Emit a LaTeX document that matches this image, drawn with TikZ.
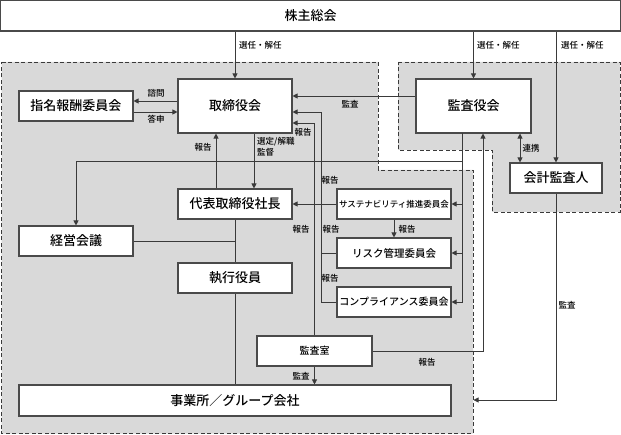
\documentclass[tikz,border=0pt]{standalone}
\usepackage{fontspec}
\setmainfont{Noto Sans CJK JP}
\newfontfamily\jpmed{Noto Sans CJK JP Medium}
\usetikzlibrary{arrows.meta}
\definecolor{regfill}{HTML}{D9D9D9}
\definecolor{edge}{HTML}{3A3A3A}
\definecolor{boxline}{HTML}{4A4A4A}
\begin{document}
\begin{tikzpicture}[x=1pt,y=-1pt,
  box/.style={draw=boxline, line width=1.1pt, fill=white, inner sep=0pt, font=\jpmed\fontsize{13}{15}\selectfont},
  conn/.style={draw=edge, line width=0.8pt},
  arr/.style={conn, -{Triangle[length=5pt,width=5pt]}},
  dbl/.style={conn, {Triangle[length=5pt,width=5pt]}-{Triangle[length=5pt,width=5pt]}},
  lbl/.style={font=\jpmed\fontsize{8.5}{10}\selectfont, inner sep=0pt, text=black},
  region/.style={fill=regfill, draw=edge, dash pattern=on 4pt off 2.5pt, line width=0.8pt}]
\useasboundingbox (0,0) rectangle (621,435);
\fill[white] (0,0) rectangle (621,435);
% regions
\draw[region] (1.5,62) -- (378,62) -- (378,170) -- (473,170) -- (473,433.5) -- (1.5,433.5) -- cycle;
\draw[region] (398,62) -- (620,62) -- (620,212) -- (492,212) -- (492,150) -- (398,150) -- cycle;
% nodes
\node[box, minimum width=620pt, minimum height=30.5pt] (top) at (310.5,15.75) {株主総会};
\node[box, minimum width=114pt, minimum height=54pt] (tori) at (235,106) {取締役会};
\node[box, minimum width=114pt, minimum height=30pt] (shimei) at (76,106) {指名報酬委員会};
\node[box, minimum width=115pt, minimum height=54pt] (kansa) at (473.5,106) {監査役会};
\node[box, minimum width=92pt, minimum height=30pt] (kaikei) at (556,178) {会計監査人};
\node[box, minimum width=114pt, minimum height=30pt] (shacho) at (235,204) {代表取締役社長};
\node[box, minimum width=114pt, minimum height=30pt] (keiei) at (76,241) {経営会議};
\node[box, minimum width=114pt, minimum height=30pt] (shikko) at (235,278) {執行役員};
\node[box, minimum width=114pt, minimum height=30pt, font=\jpmed\fontsize{8.5}{10}\selectfont] (sus) at (394,204) {サステナビリティ推進委員会};
\node[box, minimum width=114pt, minimum height=30pt, font=\jpmed\fontsize{10.5}{12}\selectfont] (risk) at (394,253) {リスク管理委員会};
\node[box, minimum width=114pt, minimum height=30pt, font=\jpmed\fontsize{10}{12}\selectfont] (comp) at (394,302) {コンプライアンス委員会};
\node[box, minimum width=115pt, minimum height=30pt, font=\jpmed\fontsize{10}{12}\selectfont] (shitsu) at (314.5,351) {監査室};
\node[box, minimum width=432pt, minimum height=31pt] (jigyo) at (235,400.5) {事業所／グループ会社};
% coordinates
\coordinate (busTop) at (321,112);
\coordinate (busBot) at (321,302);
\coordinate (shitsuTop) at (314.5,123);
\coordinate (kRailTop) at (462,133);
\coordinate (kRailBot) at (462,302);
\coordinate (kHoriz) at (462,161);
\coordinate (kaikeiBend) at (556,400);
\coordinate (kaikeiEnd) at (473.5,400);
% general meeting
\draw[arr] (tori.north |- top.south) -- (tori.north);
\draw[arr] (kansa.north |- top.south) -- (kansa.north);
\draw[arr] (kaikei.north |- top.south) -- (kaikei.north);
\node[lbl, anchor=west] at (239,45) {選任・解任};
\node[lbl, anchor=west] at (477,45) {選任・解任};
\node[lbl, anchor=west] at (561,45) {選任・解任};
% nomination committee
\draw[arr] ([yshift=5pt]tori.west) -- ([yshift=5pt]shimei.east);
\draw[arr] ([yshift=-6pt]shimei.east) -- ([yshift=-6pt]tori.west);
\node[lbl] at (156,93) {諮問};
\node[lbl] at (156,119) {答申};
% audit board to board
\draw[arr] ([yshift=10pt]kansa.west) -- ([yshift=10pt]tori.east);
\node[lbl] at (350,104) {監査};
% committees bus
\draw[arr] (comp.west) -- (busBot) -- (busTop) -- (tori.east |- busTop);
\draw[conn] (risk.west) -- (risk.west -| busTop);
\draw[arr] (sus.west) -- (shacho.east);
% audit office to board
\draw[arr] (shitsu.north) -- (shitsuTop) -- (tori.east |- shitsuTop);
\node[lbl] at (303,132) {報告};
% board <-> president
\draw[arr] ([xshift=-19pt]shacho.north) -- ([xshift=-19pt]tori.south);
\draw[arr] ([xshift=19pt]tori.south) -- ([xshift=19pt]shacho.north);
\node[lbl] at (203,147) {報告};
\node[lbl, anchor=north west, align=left, font=\jpmed\fontsize{8.5}{11}\selectfont] at (257,137) {選定/解職\\監督};
% president line
\draw[conn] (shacho.south) -- (shikko.north);
\draw[conn] (shikko.south) -- (jigyo.north);
\draw[conn] (keiei.east) -- (keiei.east -| shacho.south);
% audit board rail
\draw[arr] (kRailTop) -- (kRailBot) -- (comp.east);
\draw[arr] (sus.east -| kRailTop) -- (sus.east);
\draw[arr] (risk.east -| kRailTop) -- (risk.east);
\draw[arr] (kHoriz) -| (keiei.north);
% sus -> risk
\draw[arr] (sus.south) -- (risk.north);
\node[lbl] at (330,180) {報告};
\node[lbl] at (301,229) {報告};
\node[lbl] at (331,229) {報告};
\node[lbl] at (407,229) {報告};
\node[lbl] at (330,278) {報告};
% cooperation
\draw[dbl] ([xshift=46.5pt]kansa.south) -- ([xshift=46.5pt]kansa.south |- kaikei.north);
\node[lbl] at (531,148) {連携};
% audit office
\draw[arr] (shitsu.east) -| ([xshift=9.5pt]kansa.south);
\node[lbl] at (427,362) {報告};
\draw[arr] (shitsu.south) -- (shitsu.south |- jigyo.north);
\node[lbl] at (301,376) {監査};
% accounting auditor
\draw[arr] (kaikei.south) -- (kaikeiBend) -- (kaikeiEnd);
\node[lbl] at (567,305) {監査};
\end{tikzpicture}
\end{document}
